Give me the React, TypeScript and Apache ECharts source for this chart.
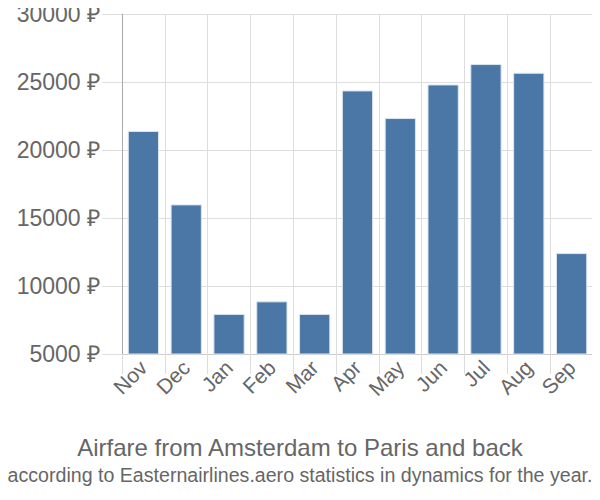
import React, { useEffect, useRef } from "react";
import * as echarts from "echarts";

const months = ["Nov", "Dec", "Jan", "Feb", "Mar", "Apr", "May", "Jun", "Jul", "Aug", "Sep"];
const prices = [21400, 16000, 7950, 8870, 7950, 24380, 22350, 24820, 26320, 25680, 12420];
const yTicks = { min: 5000, max: 30000, interval: 5000 };
const titleText = "Airfare from Amsterdam to Paris and back";
const subtitleText = "according to Easternairlines.aero statistics in dynamics for the year.";

export default function App() {
  const ref = useRef<HTMLDivElement>(null);
  useEffect(() => {
    if (!ref.current) return;
    const chart = echarts.init(ref.current, undefined, { renderer: "svg" });
    chart.setOption({
      animation: false,
      textStyle: { fontFamily: "Liberation Sans, Arial, sans-serif" },
      title: [
        {
          text: titleText,
          left: "center",
          top: 430,
          textStyle: { fontSize: 24, fontWeight: "normal", color: "#666666" },
        },
        {
          text: subtitleText,
          left: "center",
          top: 460,
          textStyle: { fontSize: 19.6, fontWeight: "normal", color: "#666666" },
        },
      ],
      grid: { left: 122, top: 14, right: 7, bottom: 146, containLabel: false },
      xAxis: {
        type: "category",
        data: months,
        boundaryGap: true,
        axisLine: { show: true, lineStyle: { color: "#cccccc", width: 1 } },
        axisTick: { show: true, length: 20, lineStyle: { color: "#dddddd" } },
        splitLine: { show: true, lineStyle: { color: "#dddddd", width: 1 } },
        axisLabel: { rotate: 45, fontSize: 21, color: "#666666", margin: 10 },
      },
      yAxis: {
        type: "value",
        min: yTicks.min,
        max: yTicks.max,
        interval: yTicks.interval,
        axisLine: { show: true, lineStyle: { color: "#aaaaaa", width: 1 } },
        axisTick: { show: true, length: 20, lineStyle: { color: "#dddddd" } },
        splitLine: { show: true, lineStyle: { color: "#dddddd", width: 1 } },
        axisLabel: {
          formatter: (v: number) => `${v} ₽`,
          fontSize: 23,
          color: "#666666",
          margin: 22,
        },
      },
      series: [
        {
          type: "bar",
          data: prices,
          barCategoryGap: "27%",
          itemStyle: { color: "#4b77a7", borderColor: "#dce5ef", borderWidth: 1 },
        },
      ],
    });
    return () => chart.dispose();
  }, []);
  return <div ref={ref} style={{ width: 600, height: 500, margin: -8 }} />;
}
